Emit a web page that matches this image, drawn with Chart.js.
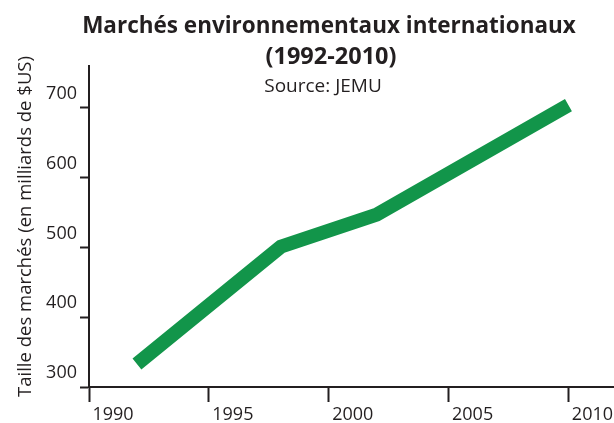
<!doctype html>
<html>

<head>
  <meta charset="utf-8">
  <title>Marchés environnementaux internationaux</title>
  <script src="https://cdn.jsdelivr.net/npm/chart.js@4.4.0/dist/chart.umd.min.js"></script>
  <style>
    body {
      margin: 0;
      background: #fff;
    }
    .chart {
      width: 614px;
      height: 423px;
    }
  </style>
</head>

<body>
  <div class="chart">
    <canvas id="myChart"></canvas>
  </div>

  <script>
    var years = [1992, 1998, 2002, 2010];
    var marketSize = [333, 501, 547, 704];
    var xTicks = [1990, 1995, 2000, 2005, 2010];
    var yTicks = [300, 400, 500, 600, 700];
    var titleLines = ['Marchés environnementaux internationaux', '(1992-2010)'];
    var sourceText = 'Source: JEMU';
    var yAxisTitle = 'Taille des marchés (en milliards de $US)';

    var ink = '#231f20';
    var green = '#12954a';

    // title block is drawn by hand so it can sit partly over the plot area
    var header = {
      id: 'header',
      afterDraw: function(chart) {
        var ctx = chart.ctx;
        ctx.save();
        ctx.fillStyle = ink;
        ctx.textAlign = 'center';
        ctx.textBaseline = 'alphabetic';
        ctx.font = 'bold 22.5px "Open Sans"';
        ctx.fillText(titleLines[0], 329, 33);
        ctx.font = 'bold 23.5px "Open Sans"';
        ctx.fillText(titleLines[1], 331, 64);
        ctx.font = '19px "Open Sans"';
        ctx.fillText(sourceText, 323, 92);
        ctx.restore();
      }
    };

    var config = {
      type: 'line',
      data: {
        datasets: [{
          data: years.map(function(y, i) { return {x: y, y: marketSize[i]}; }),
          borderColor: green,
          borderWidth: 14,
          borderCapStyle: 'butt',
          borderJoinStyle: 'miter',
          pointRadius: 0,
          tension: 0,
          fill: false
        }]
      },
      options: {
        responsive: true,
        maintainAspectRatio: false,
        animation: false,
        layout: {
          padding: {top: 66, right: 0, bottom: 0, left: 0}
        },
        scales: {
          x: {
            type: 'linear',
            min: 1990,
            max: 2011.9,
            afterBuildTicks: function(s) {
              s.ticks = xTicks.map(function(v) { return {value: v}; });
            },
            afterFit: function(s) { s.height = 36; },
            grid: {
              drawOnChartArea: false,
              tickLength: 15,
              tickWidth: 2,
              color: ink
            },
            border: {color: ink, width: 2},
            ticks: {
              color: ink,
              font: {family: 'Open Sans', size: 18},
              padding: 2,
              labelOffset: 24,
              maxRotation: 0,
              autoSkip: false,
              callback: function(v) { return String(v); }
            }
          },
          y: {
            min: 300,
            max: 760,
            afterBuildTicks: function(s) {
              s.ticks = yTicks.map(function(v) { return {value: v}; });
            },
            afterFit: function(s) { s.width = 89; },
            grid: {
              drawOnChartArea: false,
              tickLength: 9,
              tickWidth: 2,
              color: ink
            },
            border: {color: ink, width: 2},
            ticks: {
              color: ink,
              font: {family: 'Open Sans', size: 18},
              padding: 3,
              labelOffset: -14
            },
            title: {
              display: true,
              text: yAxisTitle,
              color: ink,
              font: {family: 'Open Sans', size: 18.5},
              padding: {top: 15, bottom: 4}
            }
          }
        },
        plugins: {
          legend: {display: false},
          tooltip: {enabled: false}
        }
      },
      plugins: [header]
    };

    window.onload = function() {
      var ctx = document.getElementById('myChart').getContext('2d');
      window.myChart = new Chart(ctx, config);
    };
  </script>
</body>

</html>
